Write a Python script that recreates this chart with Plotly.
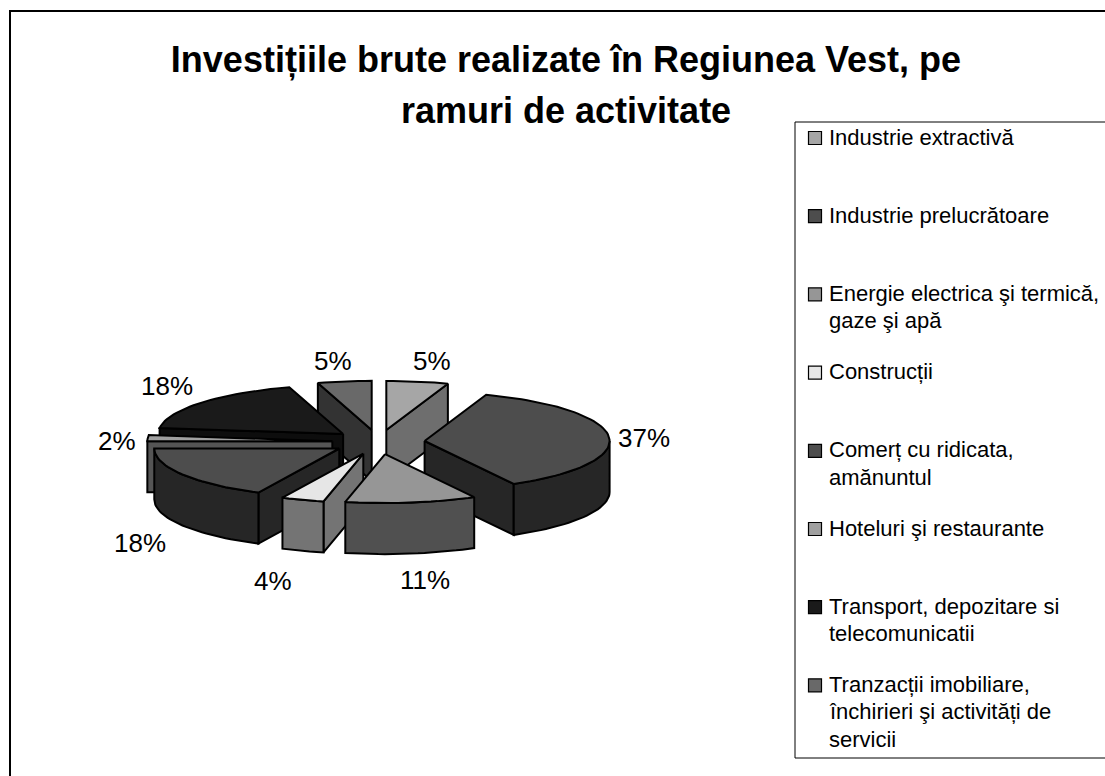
import math
import plotly.graph_objects as go

# ---- data ----
categories = [
    "Industrie extractivă",
    "Industrie prelucrătoare",
    "Energie electrica şi termică,<br>gaze şi apă",
    "Construcții",
    "Comerț cu ridicata,<br>amănuntul",
    "Hoteluri şi restaurante",
    "Transport, depozitare si<br>telecomunicatii",
    "Tranzacții imobiliare,<br>închirieri şi activități de<br>servicii",
]
values = [5.4, 36.6, 11.45, 3.75, 17.8, 2.0, 18.3, 4.7]
title_line_1 = "Investițiile brute realizate în Regiunea Vest, pe"
title_line_2 = "ramuri de activitate"

# ---- styles ----
top_colors = ["#a6a6a6", "#4d4d4d", "#969696", "#e6e6e6", "#4d4d4d", "#a0a0a0", "#1a1a1a", "#696969"]
wall_colors = ["#6e6e6e", "#262626", "#505050", "#747474", "#262626", "#555555", "#0d0d0d", "#333333"]
draw_order = [0, 7, 6, 5, 4, 1, 3, 2]
label_offsets = [(14, -21), (35, 1), (14, 77), (-30, 81), (-42, 69), (-31, 3), (-35, -17), (-11, -20)]
FONT = "Liberation Sans, Arial, sans-serif"
CX, CY, RX, RY, DEPTH, EXPLODE = 378.5, 442.0, 185.0, 49.0, 51.0, 0.25
LINE_W = 2

total = sum(values)
bounds = [0.0]
for v in values:
    bounds.append(bounds[-1] + v / total * 360.0)


def pt(deg, apex):
    a = math.radians(deg)
    return apex[0] + RX * math.sin(a), apex[1] - RY * math.cos(a)


def poly(fig, pts, color):
    xs = [p[0] for p in pts] + [pts[0][0]]
    ys = [p[1] for p in pts] + [pts[0][1]]
    fig.add_trace(go.Scatter(x=xs, y=ys, mode="lines", fill="toself", fillcolor=color,
                             line=dict(color="black", width=LINE_W), showlegend=False,
                             hoverinfo="skip"))


fig = go.Figure()
apexes = []
for i in range(len(values)):
    mid = (bounds[i] + bounds[i + 1]) / 2
    a = math.radians(mid)
    apexes.append((CX + EXPLODE * RX * math.sin(a), CY - EXPLODE * RY * math.cos(a)))

for i in draw_order:
    t1, t2 = bounds[i], bounds[i + 1]
    A = apexes[i]
    steps = max(2, int((t2 - t1) / 2))
    arc = [t1 + (t2 - t1) * k / steps for k in range(steps + 1)]
    down = lambda p: (p[0], p[1] + DEPTH)
    # cut walls facing the viewer
    if math.sin(math.radians(t1)) < -1e-6:
        P = pt(t1, A)
        poly(fig, [A, P, down(P), down(A)], wall_colors[i])
    if math.sin(math.radians(t2)) > 1e-6:
        P = pt(t2, A)
        poly(fig, [A, P, down(P), down(A)], wall_colors[i])
    # outer wall (front half of the rim)
    lo, hi = max(t1, 90), min(t2, 270)
    if hi > lo:
        front = [lo] + [t for t in arc if lo < t < hi] + [hi]
        rim = [pt(t, A) for t in front]
        poly(fig, rim + [down(p) for p in reversed(rim)], wall_colors[i])
    # top face
    poly(fig, [A] + [pt(t, A) for t in arc], top_colors[i])

# percentage labels
annotations = []
for i, v in enumerate(values):
    mid = (bounds[i] + bounds[i + 1]) / 2
    x, y = pt(mid, apexes[i])
    annotations.append(dict(x=x + label_offsets[i][0], y=y + label_offsets[i][1],
                            text=f"{round(v)}%", showarrow=False, xanchor="center", yanchor="middle",
                            font=dict(family=FONT, size=26, color="black")))

# legend
LEG_X, LEG_TOP, LEG_STEP, LEG_LINE = 815, 138, 78.2, 27.3
leg_y = [LEG_TOP + LEG_STEP * i for i in range(len(categories))]
fig.add_trace(go.Scatter(x=[LEG_X] * len(categories), y=leg_y, mode="markers", showlegend=False,
                         hoverinfo="skip",
                         marker=dict(symbol="square", size=13, color=top_colors,
                                     line=dict(color="black", width=1.2))))
for name, y in zip(categories, leg_y):
    for k, line in enumerate(name.split("<br>")):
        annotations.append(dict(x=827, y=y - 1 + k * LEG_LINE, text=line, showarrow=False,
                                xanchor="left", yanchor="middle", align="left",
                                font=dict(family=FONT, size=22, color="black")))

annotations.append(dict(x=566, y=110, text=f"<b>{title_line_2}</b>", showarrow=False,
                        xanchor="center", yanchor="middle",
                        font=dict(family=FONT, size=36, color="black")))

shapes = [
    dict(type="rect", x0=10, y0=11, x1=1300, y1=1000, line=dict(color="black", width=2), layer="below"),
    dict(type="rect", x0=795, y0=122, x1=1300, y1=758, line=dict(color="black", width=1), layer="below"),
]

fig.update_layout(
    width=1105, height=776, margin=dict(l=0, r=0, t=0, b=0),
    paper_bgcolor="white", plot_bgcolor="white", showlegend=False,
    title=dict(text=f"<b>{title_line_1}</b>", x=566 / 1105, xanchor="center", y=1 - 59 / 776, yanchor="middle",
               font=dict(family=FONT, size=36, color="black")),
    xaxis=dict(range=[0, 1105], visible=False, fixedrange=True),
    yaxis=dict(range=[776, 0], visible=False, fixedrange=True),
    annotations=annotations, shapes=shapes,
)
fig.write_html("out.html", config={"displayModeBar": False, "responsive": False},
               post_script="document.body.style.margin='0';document.body.style.overflow='hidden';")
